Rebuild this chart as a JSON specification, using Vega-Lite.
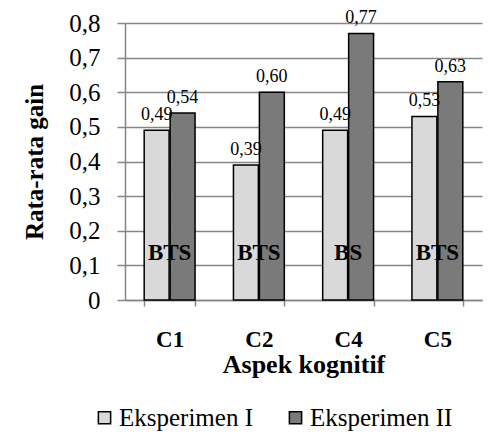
{
  "$schema": "https://vega.github.io/schema/vega-lite/v6.json",
  "autosize": {"type": "none"},
  "width": 357,
  "height": 277,
  "padding": {"left": 125, "top": 23, "right": 12, "bottom": 137},
  "background": "white",
  "config": {
    "view": {"stroke": null},
    "font": "Liberation Serif",
    "axis": {"labelFont": "Liberation Serif", "titleFont": "Liberation Serif", "labelColor": "black", "titleColor": "black"},
    "axisY": {
      "labelExpr": "datum.value == 0 ? '0' : replace(format(datum.value, '.1f'), '.', ',')",
      "labelOverlap": false, "labelBound": false,
      "labelFontSize": 25, "labelPadding": 17,
      "titleFontSize": 25, "titleFontWeight": "bold", "titlePadding": 21,
      "grid": true, "gridColor": "#868686", "gridWidth": 1.5,
      "domainColor": "#868686", "domainWidth": 1.5, "tickColor": "#868686", "tickWidth": 1.5, "tickSize": 8
    }
  },
  "datasets": {
    "gain": [
      {"aspek": "C1", "kelompok": "Eksperimen I", "nilai": 0.49},
      {"aspek": "C1", "kelompok": "Eksperimen II", "nilai": 0.54},
      {"aspek": "C2", "kelompok": "Eksperimen I", "nilai": 0.39},
      {"aspek": "C2", "kelompok": "Eksperimen II", "nilai": 0.60},
      {"aspek": "C4", "kelompok": "Eksperimen I", "nilai": 0.49},
      {"aspek": "C4", "kelompok": "Eksperimen II", "nilai": 0.77},
      {"aspek": "C5", "kelompok": "Eksperimen I", "nilai": 0.53},
      {"aspek": "C5", "kelompok": "Eksperimen II", "nilai": 0.63}
    ],
    "status": [
      {"aspek": "C1", "status": "BTS"},
      {"aspek": "C2", "status": "BTS"},
      {"aspek": "C4", "status": "BS"},
      {"aspek": "C5", "status": "BTS"}
    ]
  },
  "layer": [
    {
      "data": {"name": "gain"},
      "mark": {"type": "bar", "stroke": "black", "strokeWidth": 1.5},
      "encoding": {
        "x": {
          "field": "aspek", "type": "nominal",
          "scale": {"paddingInner": 0.43, "paddingOuter": 0.215},
          "axis": {
            "title": "Aspek kognitif", "labelAngle": 0,
            "labelFontSize": 23, "labelFontWeight": "bold", "labelPadding": 22,
            "titleFontSize": 26, "titleFontWeight": "bold", "titlePadding": 0,
            "domainColor": "#868686", "domainWidth": 1.5, "tickColor": "#868686", "tickWidth": 1.5,
            "tickSize": 6, "tickBand": "extent"
          }
        },
        "xOffset": {"field": "kelompok", "type": "nominal", "scale": {"paddingInner": 0.04}},
        "y": {
          "field": "nilai", "type": "quantitative",
          "scale": {"domain": [0, 0.8], "nice": false},
          "axis": {"title": "Rata-rata gain", "values": [0, 0.1, 0.2, 0.3, 0.4, 0.5, 0.6, 0.7, 0.8], "tickCount": 9}
        },
        "color": {
          "field": "kelompok", "type": "nominal",
          "scale": {"domain": ["Eksperimen I", "Eksperimen II"], "range": ["#d9d9d9", "#7a7a7a"]},
          "legend": {
            "title": null, "orient": "none", "direction": "horizontal",
            "legendX": -33, "legendY": 382,
            "symbolType": "square", "symbolSize": 150, "symbolStrokeColor": "black", "symbolStrokeWidth": 1.5,
            "labelFont": "Liberation Serif", "labelFontSize": 25, "labelColor": "black", "labelOffset": 2,
            "columnPadding": 30
          }
        }
      }
    },
    {
      "data": {"name": "gain"},
      "transform": [{"calculate": "replace(format(datum.nilai, '.2f'), '.', ',')", "as": "label"}],
      "mark": {"type": "text", "baseline": "alphabetic", "dy": -10, "fontSize": 18, "font": "Liberation Serif", "color": "black"},
      "encoding": {
        "x": {"field": "aspek", "type": "nominal"},
        "xOffset": {"field": "kelompok", "type": "nominal"},
        "y": {"field": "nilai", "type": "quantitative", "axis": {"title": "Rata-rata gain", "values": [0, 0.1, 0.2, 0.3, 0.4, 0.5, 0.6, 0.7, 0.8], "tickCount": 9}},
        "text": {"field": "label"}
      }
    },
    {
      "data": {"name": "status"},
      "mark": {"type": "text", "baseline": "middle", "fontSize": 23, "fontWeight": "bold", "font": "Liberation Serif", "color": "black"},
      "encoding": {
        "x": {"field": "aspek", "type": "nominal"},
        "y": {"datum": 0.135, "type": "quantitative", "axis": {"title": "Rata-rata gain", "values": [0, 0.1, 0.2, 0.3, 0.4, 0.5, 0.6, 0.7, 0.8], "tickCount": 9}},
        "text": {"field": "status"}
      }
    }
  ]
}
